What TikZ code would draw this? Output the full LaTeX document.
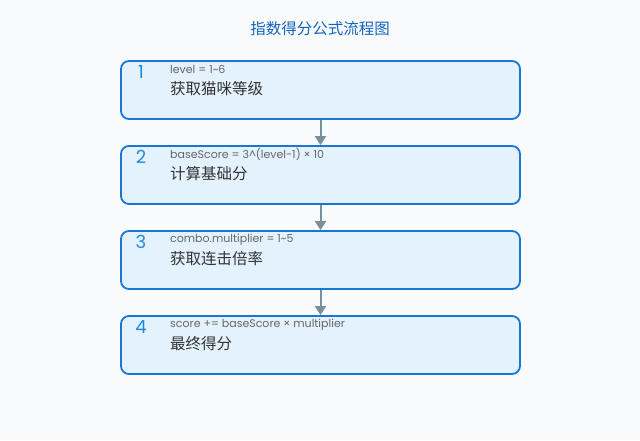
\documentclass[tikz,border=0pt]{standalone}
\usepackage{fontspec}
\setmainfont{Poppins}
\newfontfamily\cjk{Noto Sans CJK SC}
\usetikzlibrary{positioning,arrows.meta}
\definecolor{pagebg}{HTML}{F8FAFC}
\definecolor{boxfill}{HTML}{E3F2FD}
\definecolor{boxline}{HTML}{1976D2}
\definecolor{numblue}{HTML}{1E88E5}
\definecolor{titleblue}{HTML}{1565C0}
\definecolor{linkgray}{HTML}{78909C}
\definecolor{formgray}{HTML}{666666}
\definecolor{descdark}{HTML}{333333}
\tikzset{
  stepbox/.style={draw=boxline, line width=1.8pt, fill=boxfill, rounded corners=8pt,
    minimum width=399pt, minimum height=58pt, inner sep=0pt},
  stepnum/.style={text=numblue, font=\fontsize{18}{18}\selectfont, inner sep=0pt},
  formula/.style={anchor=west, text=formgray, font=\fontsize{11}{11}\selectfont, inner sep=0pt},
  desc/.style={anchor=west, text=descdark, font=\cjk\fontsize{15.5}{15.5}\selectfont, inner sep=0pt},
  link/.style={draw=linkgray, line width=2pt, -{Triangle[width=11pt,length=9pt]}}
}
\begin{document}
\begin{tikzpicture}[x=1pt,y=-1pt]
  \fill[pagebg] (0,0) rectangle (640,440);

  \node[text=titleblue, font=\cjk\fontsize{15.5}{15.5}\selectfont] (title) at (320,29) {指数得分公式流程图};

  \node[stepbox] (s1) at (320.5,90) {};
  \node[stepbox] (s2) at (320.5,175) {};
  \node[stepbox] (s3) at (320.5,260) {};
  \node[stepbox] (s4) at (320.5,345) {};

  \node[stepnum] (n1) at (141,72) {1};
  \node[formula] (f1) at (170,69.5) {level = 1\textasciitilde 6};
  \node[desc] (d1) at (170,89) {获取猫咪等级};

  \node[stepnum] (n2) at (141,157) {2};
  \node[formula] (f2) at (170,154.5) {baseScore = 3\textasciicircum(level-1) × 10};
  \node[desc] (d2) at (170,174) {计算基础分};

  \node[stepnum] (n3) at (141,242) {3};
  \node[formula] (f3) at (170,239.5) {combo.multiplier = 1\textasciitilde 5};
  \node[desc] (d3) at (170,259) {获取连击倍率};

  \node[stepnum] (n4) at (141,327) {4};
  \node[formula] (f4) at (170,324.5) {score += baseScore × multiplier};
  \node[desc] (d4) at (170,344) {最终得分};

  \draw[link] (s1) -- (s2);
  \draw[link] (s2) -- (s3);
  \draw[link] (s3) -- (s4);
\end{tikzpicture}
\end{document}
